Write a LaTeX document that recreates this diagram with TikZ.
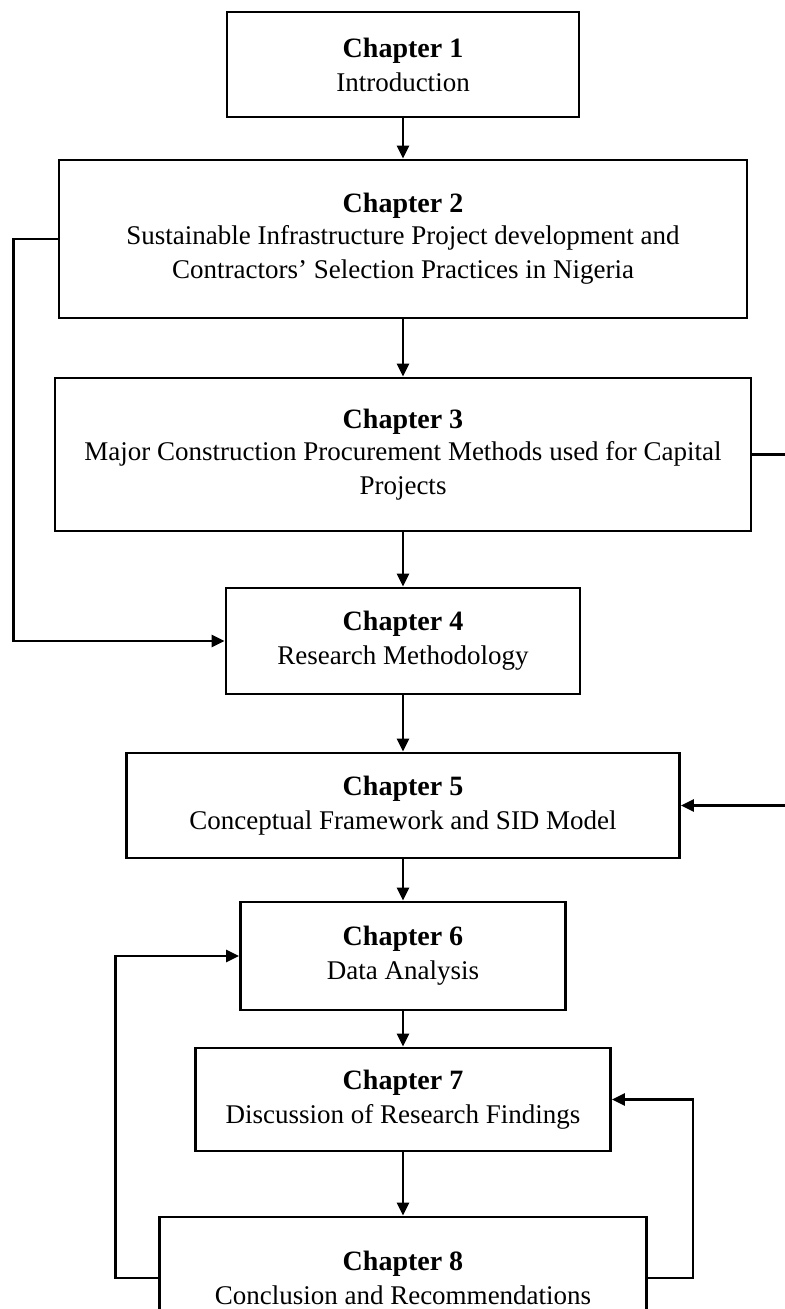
\documentclass[tikz,border=0pt]{standalone}
\usepackage{fontspec}
\setmainfont{Liberation Serif}
\usetikzlibrary{arrows.meta}
\begin{document}
\begin{tikzpicture}[x=0.5pt,y=-0.5pt,
  chapbox/.style={draw, line width=1.4pt, align=center, inner sep=0pt,
    font=\fontsize{13.5}{17}\selectfont},
  flow/.style={line width=1.4pt, -{Triangle[length=6.5pt,width=6pt]}},
  plain/.style={line width=1.4pt}]
\useasboundingbox (0,0) rectangle (785,1309);
\clip (0,0) rectangle (785,1309);

% chapter boxes, top to bottom, all on one vertical axis
\node[chapbox, minimum width=176pt, minimum height=52.5pt] (c1) at (403,64.5)
  {\textbf{\fontsize{14}{17}\selectfont Chapter 1}\\Introduction};
\node[chapbox, minimum width=344pt, minimum height=79pt] (c2) at (403,239)
  {\textbf{\fontsize{14}{16}\selectfont Chapter 2}\\[-1pt]Sustainable Infrastructure Project development and\\Contractors’ Selection Practices in Nigeria};
\node[chapbox, minimum width=348pt, minimum height=76.5pt] (c3) at (403,454.5)
  {\textbf{\fontsize{14}{16}\selectfont Chapter 3}\\[-1pt]Major Construction Procurement Methods used for Capital\\Projects};
\node[chapbox, minimum width=177pt, minimum height=53pt] (c4) at (403,641)
  {\textbf{\fontsize{14}{17}\selectfont Chapter 4}\\Research Methodology};
\node[chapbox, minimum width=276.5pt, minimum height=52.5pt] (c5) at (403,805.5)
  {\textbf{\fontsize{14}{17}\selectfont Chapter 5}\\Conceptual Framework and SID Model};
\node[chapbox, minimum width=162.5pt, minimum height=54pt] (c6) at (403,956)
  {\textbf{\fontsize{14}{17}\selectfont Chapter 6}\\Data Analysis};
\node[chapbox, minimum width=207.5pt, minimum height=51.5pt] (c7) at (403,1099.5)
  {\textbf{\fontsize{14}{17}\selectfont Chapter 7}\\Discussion of Research Findings};
\node[chapbox, minimum width=243.5pt, minimum height=61pt] (c8) at (403,1278)
  {\textbf{\fontsize{14}{17}\selectfont Chapter 8}\\Conclusion and Recommendations};

% main sequence
\draw[flow] (c1.south) -- (c2.north);
\draw[flow] (c2.south) -- (c3.north);
\draw[flow] (c3.south) -- (c4.north);
\draw[flow] (c4.south) -- (c5.north);
\draw[flow] (c5.south) -- (c6.north);
\draw[flow] (c6.south) -- (c7.north);
\draw[flow] (c7.south) -- (c8.north);

% side links
\coordinate (r3) at (785,454.5);
\coordinate (r5) at (785,805.5);
\draw[flow] (c2.west) -- ++(-44,0) |- (c4.west);
\draw[plain] (c3.east) -- (r3);
\draw[flow] (r5) -- (c5.east);
\draw[flow] (c8.west) -- ++(-43,0) |- (c6.west);
\draw[flow] (c8.east) -- ++(45,0) |- (c7.east);
\end{tikzpicture}
\end{document}
